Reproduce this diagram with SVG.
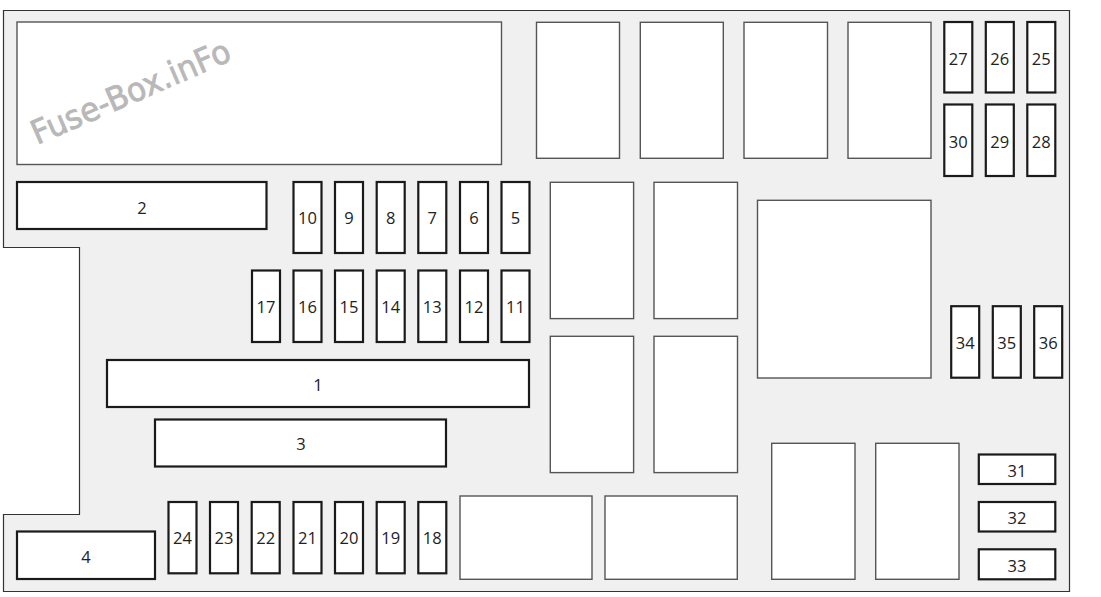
<svg xmlns="http://www.w3.org/2000/svg" width="1101" height="597" viewBox="0 0 1101 597">
<style>
.bg{fill:#f0f0f0;stroke:#333;stroke-width:1.2}
.relay{fill:#fff;stroke:#555;stroke-width:1.4}
.fuse{fill:#fff;stroke:#1a1a1a;stroke-width:2.2}
.lbl{font-family:"Open Sans","Liberation Sans",sans-serif;font-size:16.5px;fill:#222;text-anchor:middle;dominant-baseline:central}
.wm{font-family:"DejaVu Sans","Liberation Sans",sans-serif;font-size:33px;fill:#b8b8b8;stroke:#b8b8b8;stroke-width:0.8}
</style>
<rect width="1101" height="597" fill="#fff"/>
<g id="housing">
<path class="bg" d="M3.5 10.5 H1069.5 V591.5 H3.5 V514.5 H79.5 V247.5 H3.5 Z"/>
</g>
<g id="relays">
<rect id="relay-big-top" class="relay" x="17" y="22" width="484.5" height="142.5"/>
<rect id="relay-t1" class="relay" x="536.5" y="22.3" width="83" height="136"/>
<rect id="relay-t2" class="relay" x="640.3" y="22.3" width="83" height="136"/>
<rect id="relay-t3" class="relay" x="744" y="22.3" width="83.5" height="136"/>
<rect id="relay-t4" class="relay" x="848" y="22.3" width="83" height="136"/>
<rect id="relay-m1" class="relay" x="550.3" y="182.3" width="83.3" height="136.3"/>
<rect id="relay-m2" class="relay" x="654" y="182.3" width="83.5" height="136.3"/>
<rect id="relay-m3" class="relay" x="550.3" y="336.3" width="83.3" height="136.3"/>
<rect id="relay-m4" class="relay" x="654" y="336.3" width="83.5" height="136.3"/>
<rect id="relay-sq" class="relay" x="757.5" y="200.3" width="173.5" height="177.7"/>
<rect id="relay-b1" class="relay" x="460" y="496" width="132" height="83.3"/>
<rect id="relay-b2" class="relay" x="605" y="496" width="132.3" height="83.3"/>
<rect id="relay-b3" class="relay" x="771.7" y="443.3" width="83.3" height="136"/>
<rect id="relay-b4" class="relay" x="875.7" y="443.3" width="83.3" height="136"/>
</g>
<text class="wm" transform="translate(37,145) rotate(-23.5)" textLength="214" lengthAdjust="spacingAndGlyphs">Fuse-Box.inFo</text>
<g id="fuses">
<g id="f2"><rect class="fuse" x="17" y="182" width="249.5" height="47"/><text class="lbl" x="142" y="207">2</text></g>
<g id="f1"><rect class="fuse" x="107" y="360" width="422" height="47"/><text class="lbl" x="318" y="384">1</text></g>
<g id="f3"><rect class="fuse" x="155" y="419.5" width="291" height="47"/><text class="lbl" x="301" y="443">3</text></g>
<g id="f4"><rect class="fuse" x="17" y="531.5" width="138" height="47.5"/><text class="lbl" x="86" y="556">4</text></g>

<g id="f10"><rect class="fuse" x="293.5" y="182" width="28" height="71"/><text class="lbl" x="307.5" y="217.5">10</text></g>
<g id="f9"><rect class="fuse" x="335" y="182" width="28" height="71"/><text class="lbl" x="349" y="217.5">9</text></g>
<g id="f8"><rect class="fuse" x="376.7" y="182" width="28" height="71"/><text class="lbl" x="390.7" y="217.5">8</text></g>
<g id="f7"><rect class="fuse" x="418.3" y="182" width="28" height="71"/><text class="lbl" x="432.3" y="217.5">7</text></g>
<g id="f6"><rect class="fuse" x="460" y="182" width="28" height="71"/><text class="lbl" x="474" y="217.5">6</text></g>
<g id="f5"><rect class="fuse" x="501.5" y="182" width="28" height="71"/><text class="lbl" x="515.5" y="217.5">5</text></g>

<g id="f17"><rect class="fuse" x="252" y="270.5" width="28" height="71.5"/><text class="lbl" x="266" y="306.5">17</text></g>
<g id="f16"><rect class="fuse" x="293.5" y="270.5" width="28" height="71.5"/><text class="lbl" x="307.5" y="306.5">16</text></g>
<g id="f15"><rect class="fuse" x="335" y="270.5" width="28" height="71.5"/><text class="lbl" x="349" y="306.5">15</text></g>
<g id="f14"><rect class="fuse" x="376.7" y="270.5" width="28" height="71.5"/><text class="lbl" x="390.7" y="306.5">14</text></g>
<g id="f13"><rect class="fuse" x="418.3" y="270.5" width="28" height="71.5"/><text class="lbl" x="432.3" y="306.5">13</text></g>
<g id="f12"><rect class="fuse" x="460" y="270.5" width="28" height="71.5"/><text class="lbl" x="474" y="306.5">12</text></g>
<g id="f11"><rect class="fuse" x="501.5" y="270.5" width="28" height="71.5"/><text class="lbl" x="515.5" y="306.5">11</text></g>

<g id="f24"><rect class="fuse" x="168.5" y="502" width="28" height="71.3"/><text class="lbl" x="182.5" y="537.5">24</text></g>
<g id="f23"><rect class="fuse" x="210" y="502" width="28" height="71.3"/><text class="lbl" x="224" y="537.5">23</text></g>
<g id="f22"><rect class="fuse" x="251.7" y="502" width="28" height="71.3"/><text class="lbl" x="265.7" y="537.5">22</text></g>
<g id="f21"><rect class="fuse" x="293.5" y="502" width="28" height="71.3"/><text class="lbl" x="307.5" y="537.5">21</text></g>
<g id="f20"><rect class="fuse" x="335" y="502" width="28" height="71.3"/><text class="lbl" x="349" y="537.5">20</text></g>
<g id="f19"><rect class="fuse" x="376.7" y="502" width="28" height="71.3"/><text class="lbl" x="390.7" y="537.5">19</text></g>
<g id="f18"><rect class="fuse" x="418.3" y="502" width="28" height="71.3"/><text class="lbl" x="432.3" y="537.5">18</text></g>

<g id="f27"><rect class="fuse" x="944.3" y="22" width="28" height="70.5"/><text class="lbl" x="958.3" y="58">27</text></g>
<g id="f26"><rect class="fuse" x="985.8" y="22" width="28" height="70.5"/><text class="lbl" x="999.8" y="58">26</text></g>
<g id="f25"><rect class="fuse" x="1027.3" y="22" width="28" height="70.5"/><text class="lbl" x="1041.3" y="58">25</text></g>
<g id="f30"><rect class="fuse" x="944.3" y="104.5" width="28" height="71.5"/><text class="lbl" x="958.3" y="141">30</text></g>
<g id="f29"><rect class="fuse" x="985.8" y="104.5" width="28" height="71.5"/><text class="lbl" x="999.8" y="141">29</text></g>
<g id="f28"><rect class="fuse" x="1027.3" y="104.5" width="28" height="71.5"/><text class="lbl" x="1041.3" y="141">28</text></g>

<g id="f34"><rect class="fuse" x="951.2" y="306.2" width="28" height="71.5"/><text class="lbl" x="965.2" y="342.5">34</text></g>
<g id="f35"><rect class="fuse" x="992.8" y="306.2" width="28" height="71.5"/><text class="lbl" x="1006.8" y="342.5">35</text></g>
<g id="f36"><rect class="fuse" x="1034.2" y="306.2" width="28" height="71.5"/><text class="lbl" x="1048.2" y="342.5">36</text></g>

<g id="f31"><rect class="fuse" x="978.8" y="454.5" width="76.5" height="29.5"/><text class="lbl" x="1017" y="470">31</text></g>
<g id="f32"><rect class="fuse" x="978.8" y="502" width="76.5" height="29.5"/><text class="lbl" x="1017" y="517.5">32</text></g>
<g id="f33"><rect class="fuse" x="978.8" y="549.3" width="76.5" height="30"/><text class="lbl" x="1017" y="565">33</text></g>
</g>
<g id="connectors"/>
</svg>
